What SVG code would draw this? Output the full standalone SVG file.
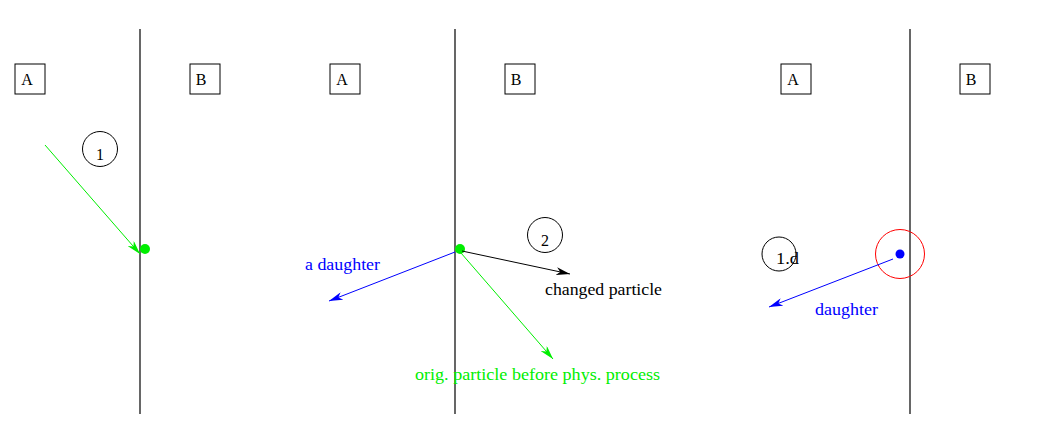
<svg xmlns="http://www.w3.org/2000/svg" width="1061" height="429" viewBox="0 0 1061 429">
<style>
.t{font-family:"Liberation Serif",serif;font-size:16px}
.box{fill:none;stroke:#000;stroke-width:1}
.wall{stroke:#000;stroke-width:1.2}
.circ{fill:none;stroke:#000;stroke-width:1}
</style>
<defs>
<marker id="ag" viewBox="0 0 14 8" refX="14" refY="4" markerWidth="14" markerHeight="8" markerUnits="userSpaceOnUse" orient="auto"><path d="M0,0 L14,4 L0,8 L4,4 Z" fill="#00ee00"/></marker>
<marker id="ab" viewBox="0 0 14 8" refX="14" refY="4" markerWidth="14" markerHeight="8" markerUnits="userSpaceOnUse" orient="auto"><path d="M0,0 L14,4 L0,8 L4,4 Z" fill="#0000ff"/></marker>
<marker id="ak" viewBox="0 0 14 8" refX="14" refY="4" markerWidth="14" markerHeight="8" markerUnits="userSpaceOnUse" orient="auto"><path d="M0,0 L14,4 L0,8 L4,4 Z" fill="#000"/></marker>
</defs>
<rect width="1061" height="429" fill="#fff"/>
<g id="walls">
<line class="wall" x1="140" y1="29" x2="140" y2="414"/>
<line class="wall" x1="455" y1="29" x2="455" y2="414"/>
<line class="wall" x1="910" y1="29" x2="910" y2="414"/>
</g>
<g id="boxA1"><rect class="box" x="15" y="64" width="30" height="30"/><text class="t" x="27" y="85" text-anchor="middle">A</text></g>
<g id="boxB1"><rect class="box" x="190" y="64" width="30" height="30"/><text class="t" x="201" y="85" text-anchor="middle">B</text></g>
<g id="boxA2"><rect class="box" x="330" y="64" width="30" height="30"/><text class="t" x="342" y="85" text-anchor="middle">A</text></g>
<g id="boxB2"><rect class="box" x="505" y="64" width="30" height="30"/><text class="t" x="516" y="85" text-anchor="middle">B</text></g>
<g id="boxA3"><rect class="box" x="781" y="64" width="30" height="30"/><text class="t" x="793" y="85" text-anchor="middle">A</text></g>
<g id="boxB3"><rect class="box" x="960" y="64" width="30" height="30"/><text class="t" x="971" y="85" text-anchor="middle">B</text></g>
<g id="step1"><circle class="circ" cx="100" cy="149" r="17.5"/><text class="t" x="100" y="160" text-anchor="middle">1</text></g>
<g id="step2"><circle class="circ" cx="545" cy="235" r="17.5"/><text class="t" x="545" y="246" text-anchor="middle">2</text></g>
<g id="step1d"><circle class="circ" cx="779" cy="254" r="17"/><text class="t" x="776" y="264" textLength="23" lengthAdjust="spacingAndGlyphs">1.d</text></g>
<g id="dot1"><circle cx="145" cy="249" r="5" fill="#00ee00"/></g>
<g id="dot2"><circle cx="460" cy="249" r="5" fill="#00ee00"/></g>
<g id="dot3"><circle cx="900" cy="254" r="24.5" fill="none" stroke="#ff0000" stroke-width="1"/><circle cx="900" cy="254" r="4.5" fill="#0000ff"/></g>
<g id="connectors" fill="none" stroke-width="1">
<line x1="45" y1="145" x2="140" y2="254" stroke="#00ee00" marker-end="url(#ag)"/>
<line x1="455" y1="252" x2="329" y2="301" stroke="#0000ff" marker-end="url(#ab)"/>
<line x1="462" y1="251" x2="570" y2="274" stroke="#000" marker-end="url(#ak)"/>
<line x1="461" y1="253" x2="553" y2="359" stroke="#00ee00" marker-end="url(#ag)"/>
<line x1="893" y1="259" x2="769" y2="307" stroke="#0000ff" marker-end="url(#ab)"/>
</g>
<g id="labels">
<text class="t" x="305" y="270" fill="#0000ff" textLength="75" lengthAdjust="spacingAndGlyphs">a daughter</text>
<text class="t" x="545" y="295" fill="#000" textLength="117" lengthAdjust="spacingAndGlyphs">changed particle</text>
<text class="t" x="415" y="380" fill="#00ee00" textLength="245" lengthAdjust="spacingAndGlyphs">orig. particle before phys. process</text>
<text class="t" x="815" y="315" fill="#0000ff" textLength="63" lengthAdjust="spacingAndGlyphs">daughter</text>
</g>
</svg>
